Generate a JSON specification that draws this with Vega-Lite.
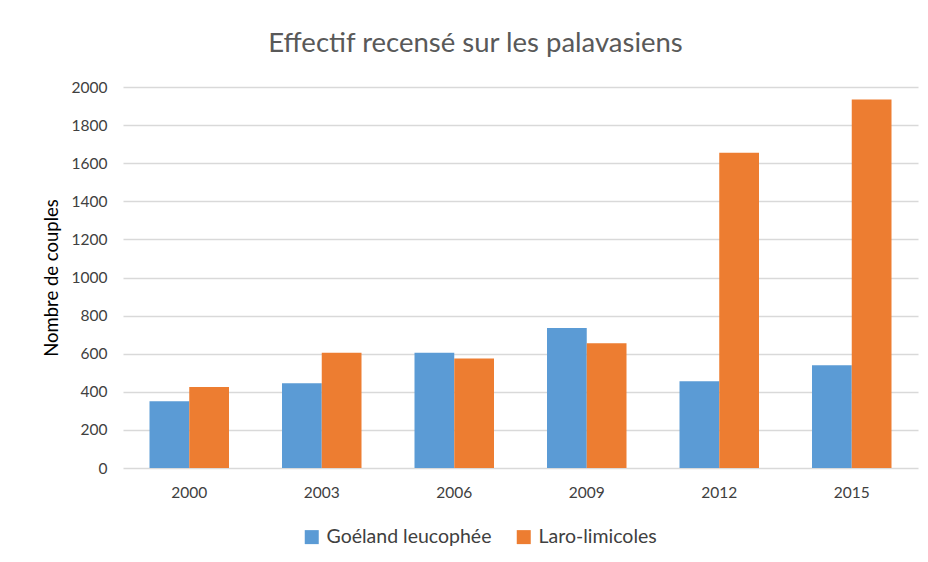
{
  "$schema": "https://vega.github.io/schema/vega-lite/v6.json",
  "width": 795,
  "height": 381,
  "autosize": {"type": "none"},
  "padding": {"left": 123, "top": 87, "right": 10, "bottom": 94},
  "background": "white",
  "title": {
    "text": "Effectif recensé sur les palavasiens",
    "font": "Lato",
    "fontSize": 27.5,
    "fontWeight": "normal",
    "color": "#595959",
    "anchor": "middle",
    "dx": -45,
    "offset": 23
  },
  "data": {
    "values": [
      {"annee": "2000", "espece": "Goéland leucophée", "couples": 350},
      {"annee": "2000", "espece": "Laro-limicoles", "couples": 425},
      {"annee": "2003", "espece": "Goéland leucophée", "couples": 445},
      {"annee": "2003", "espece": "Laro-limicoles", "couples": 605},
      {"annee": "2006", "espece": "Goéland leucophée", "couples": 605},
      {"annee": "2006", "espece": "Laro-limicoles", "couples": 575},
      {"annee": "2009", "espece": "Goéland leucophée", "couples": 735},
      {"annee": "2009", "espece": "Laro-limicoles", "couples": 655},
      {"annee": "2012", "espece": "Goéland leucophée", "couples": 455},
      {"annee": "2012", "espece": "Laro-limicoles", "couples": 1655},
      {"annee": "2015", "espece": "Goéland leucophée", "couples": 540},
      {"annee": "2015", "espece": "Laro-limicoles", "couples": 1935}
    ]
  },
  "mark": {"type": "bar"},
  "encoding": {
    "x": {
      "field": "annee",
      "type": "nominal",
      "scale": {"paddingInner": 0.4, "paddingOuter": 0.2},
      "axis": {
        "title": null,
        "labelAngle": 0,
        "domain": false,
        "ticks": false,
        "labelPadding": 17,
        "labelFont": "Lato",
        "labelFontSize": 15.5,
        "labelColor": "#404040"
      }
    },
    "xOffset": {"field": "espece", "type": "nominal", "scale": {"paddingInner": 0, "paddingOuter": 0}},
    "y": {
      "field": "couples",
      "type": "quantitative",
      "scale": {"domain": [0, 2000]},
      "axis": {
        "title": "Nombre de couples",
        "values": [0, 200, 400, 600, 800, 1000, 1200, 1400, 1600, 1800, 2000],
        "format": "d",
        "domain": false,
        "ticks": false,
        "grid": true,
        "gridColor": "#d9d9d9",
        "gridWidth": 1.5,
        "labelPadding": 16,
        "labelFont": "Lato",
        "labelFontSize": 15.5,
        "labelColor": "#404040",
        "titleFont": "Lato",
        "titleFontSize": 18.5,
        "titleFontWeight": "normal",
        "titleColor": "#000000",
        "titlePadding": 10
      }
    },
    "color": {
      "field": "espece",
      "type": "nominal",
      "scale": {"domain": ["Goéland leucophée", "Laro-limicoles"], "range": ["#5B9BD5", "#ED7D31"]},
      "legend": {
        "title": null,
        "orient": "none",
        "direction": "horizontal",
        "legendX": 179,
        "legendY": 440,
        "symbolType": "square",
        "symbolSize": 196,
        "symbolStrokeWidth": 0,
        "labelFont": "Lato",
        "labelFontSize": 19.5,
        "labelLimit": 400,
        "labelColor": "#404040",
        "columnPadding": 22,
        "labelOffset": 5
      }
    }
  },
  "config": {"view": {"stroke": null}}
}
